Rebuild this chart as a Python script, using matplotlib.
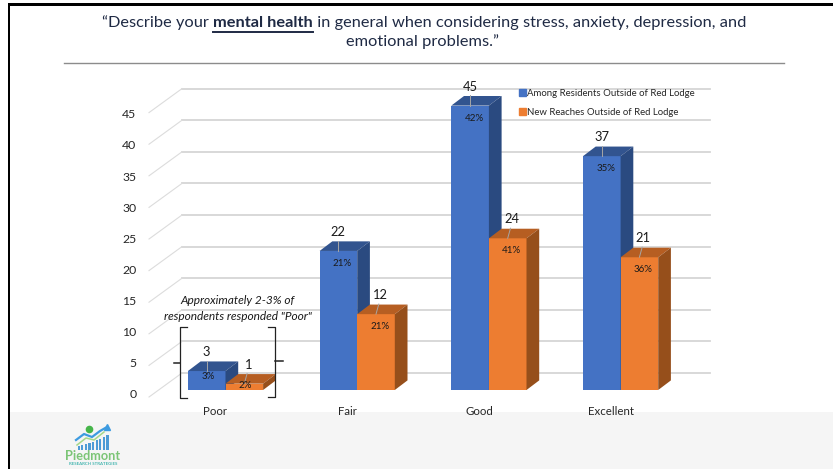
import numpy as np
import matplotlib
matplotlib.use('Agg')
import matplotlib.pyplot as plt
from matplotlib.lines import Line2D
from matplotlib.patches import Polygon, Rectangle, Patch

W, H = 833, 469
categories = ['Poor', 'Fair', 'Good', 'Excellent']
among_values = [3, 22, 45, 37]
reaches_values = [1, 12, 24, 21]
among_pct = ['3%', '21%', '42%', '35%']
reaches_pct = ['2%', '21%', '41%', '36%']
yticks = [0, 5, 10, 15, 20, 25, 30, 35, 40, 45]
series_names = ['Among Residents Outside of Red Lodge', 'New Reaches Outside of Red Lodge']

BLUE = ('#4472C4', '#32548F', '#2A4A80')
ORANGE = ('#ED7D31', '#B65E22', '#964F1B')
INK = '#1F2A44'
plt.rcParams['font.family'] = ['Lato', 'DejaVu Sans']

fig = plt.figure(figsize=(W / 100, H / 100), dpi=100, facecolor='white')

def fx(px):
  return px / W

def fy(py):
  return 1 - py / H

def pxline(xs, ys, **kw):
  fig.add_artist(Line2D([fx(x) for x in xs], [fy(y) for y in ys], **kw))

def pxrect(x0, y0, x1, y1, **kw):
  fig.add_artist(Rectangle((fx(x0), fy(y1)), (x1 - x0) / W, (y1 - y0) / H, lw=0, **kw))

#--- page furniture
pxrect(10, 412, W, H, color='#F5F5F5', zorder=-5)
pxrect(7.5, 3.5, 10, H, color='black', zorder=-4)
pxrect(7.5, 3.5, W, 5.7, color='black', zorder=-4)
pxline([64, 784], [63, 63], color='#8C8C8C', lw=1)

#--- title, three runs on the first line
r = fig.canvas.get_renderer()
title_size = 11.8
runs = [('\u201cDescribe your ', 'normal'), ('mental health', 'bold'),
        (' in general when considering stress, anxiety, depression, and', 'normal')]
pieces = [fig.text(0, fy(23), s, fontsize=title_size, fontweight=w, color=INK, va='center') for s, w in runs]
# spaces at the ends of a run are measured with a stand-in character
widths = []
for p, (s, w) in zip(pieces, runs):
  t = fig.text(0, 0, s.replace(' ', '\u00a0'), fontsize=title_size, fontweight=w)
  widths.append(t.get_window_extent(r).width)
  t.remove()
x = 424.5 - sum(widths) / 2
for p, wd in zip(pieces, widths):
  p.set_x(fx(x))
  x += wd
ul_x0 = 424.5 - sum(widths) / 2 + widths[0]
pxline([ul_x0, ul_x0 + widths[1]], [32.5, 32.5], color=INK, lw=1.4)
fig.text(fx(423), fy(42), 'emotional problems.\u201d', fontsize=title_size, color=INK, ha='center', va='center')

#--- chart axes: one category = 131.7 px, one unit = 6.32 px, front plane of the bars
X_UNIT, Y_UNIT = 131.7, 6.32
X0, Y0 = 225.5, 390.0
ax = fig.add_axes([fx(149), fy(404), (710 - 149) / W, (404 - 60) / H])
ax.set_xlim((149 - X0) / X_UNIT, (710 - X0) / X_UNIT)
ax.set_ylim((Y0 - 404) / Y_UNIT, (Y0 - 60) / Y_UNIT)
ax.patch.set_alpha(0)
for s in ax.spines.values():
  s.set_visible(False)

width = 37.6 / X_UNIT
depth_x, depth_y = 12.7 / X_UNIT, 9.6 / Y_UNIT
wall_x, wall_y = 182 - 149, 17 / Y_UNIT
xleft = ax.get_xlim()[0]
xright = ax.get_xlim()[1]
xback = xleft + wall_x / X_UNIT
front_y = -7 / Y_UNIT

for v in yticks:
  ax.plot([xback, xright], [v + wall_y, v + wall_y], color='#D6D6D6', lw=1.3, zorder=1, clip_on=False)
  ax.plot([xleft, xback], [v + front_y, v + wall_y], color='#DCDCDC', lw=0.8, zorder=1, clip_on=False)

ax.set_yticks(np.array(yticks) * 0.985 - 0.63, [str(v) for v in yticks], fontsize=8.8, color='#262626')
ax.tick_params(axis='y', length=0, pad=9)
ax.set_xticks(np.arange(len(categories)) - 10 / X_UNIT, categories, fontsize=8.3, color='#262626')
ax.tick_params(axis='x', length=0, pad=1.5)

def draw_series(pos, vals, pct, colors, z, label_dx):
  ax.bar(pos, vals, width=width, align='edge', color=colors[0], zorder=z)
  for x0, v, p in zip(pos, vals, pct):
    x1 = x0 + width
    ax.add_patch(Polygon([(x0, v), (x1, v), (x1 + depth_x, v + depth_y), (x0 + depth_x, v + depth_y)],
                         color=colors[1], lw=0, zorder=z))
    ax.add_patch(Polygon([(x1, 0), (x1 + depth_x, depth_y), (x1 + depth_x, v + depth_y), (x1, v)],
                         color=colors[2], lw=0, zorder=z))
    xc = x0 + width / 2
    ax.text(xc + label_dx, v + 3.0, str(v), fontsize=9.3, color='#1a1a1a', ha='center', va='center', zorder=9)
    ax.plot([xc, xc + label_dx * 0.7], [v, v + 1.6], color='#A6A6A6', lw=0.7, zorder=8)
    if v > 5:
      ax.text(xc + 4 / X_UNIT, v - 2.0, p, fontsize=7, color='#1a1a1a', ha='center', va='center', zorder=9)
    else:
      ax.text(xc + 1 / X_UNIT, v * 0.7, p, fontsize=7, color='#1a1a1a', ha='center', va='center', zorder=9)

xpos = np.arange(len(categories))
draw_series(xpos - width, among_values, among_pct, BLUE, 3, 0)
draw_series(xpos, reaches_values, reaches_pct, ORANGE, 4, 4 / X_UNIT)

ax.legend(handles=[Patch(color=BLUE[0], label=series_names[0]), Patch(color=ORANGE[0], label=series_names[1])],
          loc='upper left', bbox_to_anchor=(fx(519), fy(89)), bbox_transform=fig.transFigure, frameon=False,
          fontsize=6.9, handlelength=0.72, handleheight=0.72, handletextpad=0.1, labelspacing=1.0,
          borderpad=0, borderaxespad=0, labelcolor='#262626')

#--- annotation over the Poor group
fig.text(fx(238), fy(300), 'Approximately 2-3% of', fontsize=8.6, style='italic', color='#1a1a1a', ha='center', va='center')
fig.text(fx(238), fy(316), 'respondents responded "Poor"', fontsize=8.6, style='italic', color='#1a1a1a', ha='center', va='center')
pxline([187, 180, 180, 187], [327, 327, 398, 398], color='#222222', lw=0.9)
pxline([174, 180], [363, 363], color='#222222', lw=1.1)
pxline([268, 275, 275, 268], [327, 327, 397, 397], color='#222222', lw=0.9)
pxline([275, 283], [361, 361], color='#222222', lw=1.1)

#--- logo
logo_h = [4, 5, 6, 7, 8, 10, 11, 13, 15]
for i, h in enumerate(logo_h):
  pxrect(77.5 + i * 3.6, 450 - h, 79.7 + i * 3.6, 450, color='#4E9BD6', zorder=3)
pxline([76, 84, 92, 100, 107], [440, 434, 437, 431, 427], color='#3D9BE0', lw=1.6, zorder=4)
pxline([77, 86, 94, 104], [445, 438, 440, 432], color='#A5D88A', lw=1.1, zorder=4)
pxline([107], [426.5], marker='^', ms=5, color='#3D9BE0', zorder=4)
pxline([88.5], [429], marker='o', ms=5.5, mew=0, color='#46B54A', zorder=4)
fig.text(fx(93), fy(456), 'Piedmont', fontsize=9.2, fontweight='bold', color='#7CC576', ha='center', va='center')
fig.text(fx(93), fy(463.5), 'RESEARCH STRATEGIES', fontsize=3.2, fontweight='bold', color='#45B6B0', ha='center', va='center')

fig.savefig('out.png', dpi=100, facecolor='white')
